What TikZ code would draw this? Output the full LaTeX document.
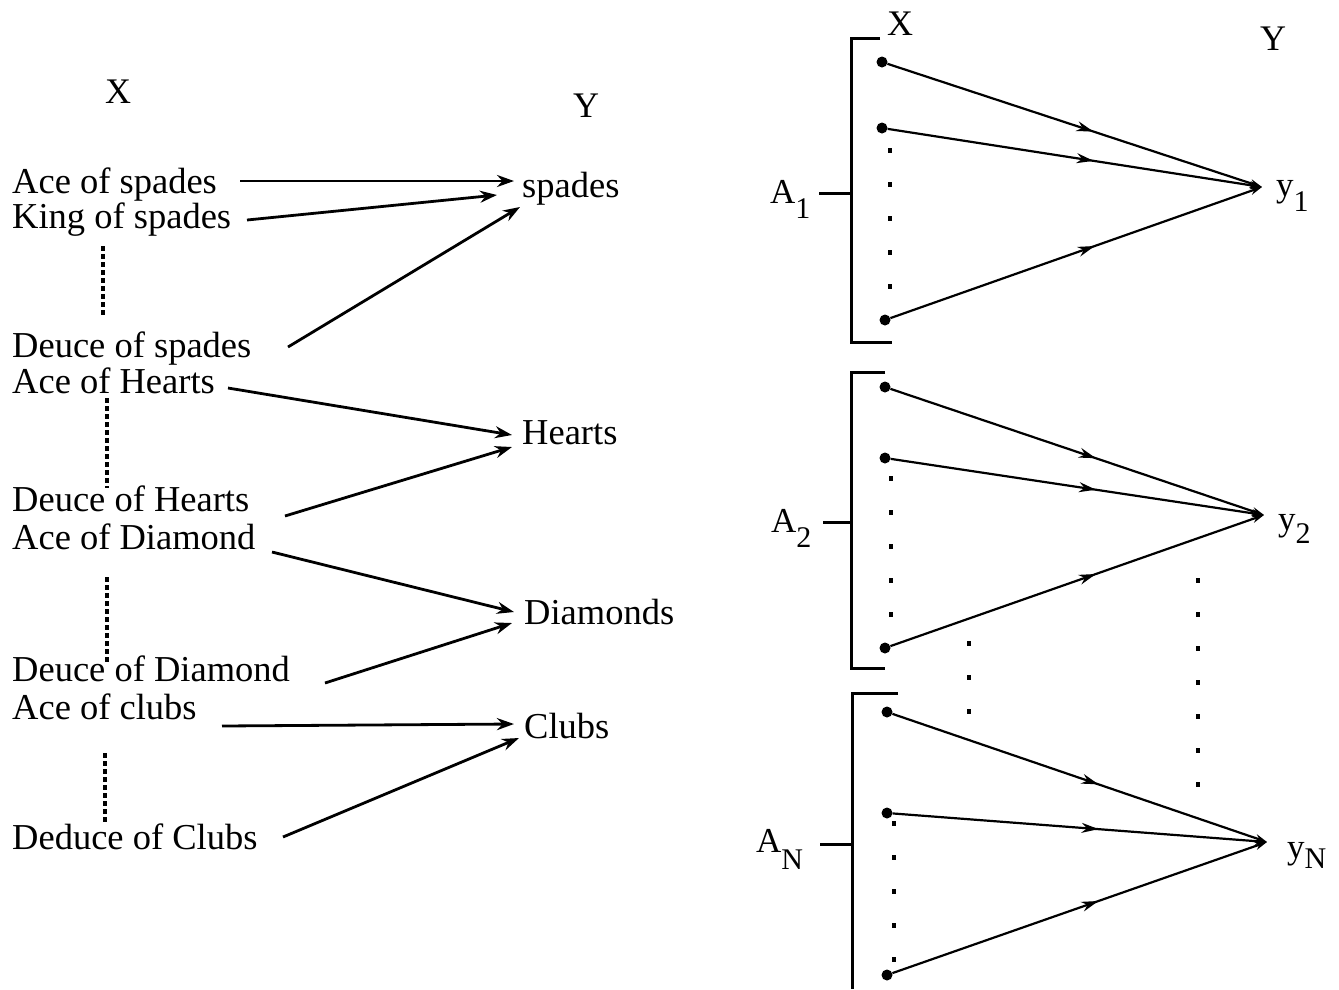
\documentclass[tikz,border=0pt]{standalone}
\usepackage{fontspec}
\setmainfont{Liberation Serif}
\usetikzlibrary{arrows.meta,decorations.markings}
\newcommand\subf{\fontsize{30}{30}\selectfont}
\begin{document}
\begin{tikzpicture}[x=1pt,y=-1pt,
  lbl/.style={inner sep=0pt, anchor=west, font=\fontsize{36.5}{40}\selectfont, text height=24pt, text depth=8pt},
  head/.style={inner sep=0pt, anchor=base, font=\fontsize{36}{40}\selectfont},
  rl/.style={inner sep=0pt, anchor=base west, font=\fontsize{35}{40}\selectfont},
  arr/.style={line width=2.8pt, -{Stealth[length=17pt,width=12pt]}},
  dotline/.style={line width=3.5pt, dash pattern=on 4.5pt off 3.5pt},
  dotpt/.style={circle, fill, inner sep=0pt, minimum size=11pt},
  marr/.style={line width=2.2pt, -{Stealth[length=12pt,width=8pt]}, postaction={decorate},
    decoration={markings, mark=at position 0.55 with {\arrow{Stealth[length=17pt,width=10pt]}}}},
  brk/.style={line width=3pt},
  vdots/.style={line width=4pt, dash pattern=on 5pt off 29pt},
]
\useasboundingbox (0,0) rectangle (1339,989);

% ---------- left panel ----------
\node[head] (lx) at (118,103) {X};
\node[head] (ly) at (586,117) {Y};

\node[lbl] (as) at (12,185) {Ace of spades};
\node[lbl] (ks) at (12,220) {King of spades};
\node[lbl] (ds) at (12,349) {Deuce of spades};
\node[lbl] (ah) at (12,385) {Ace of Hearts};
\node[lbl] (dh) at (12,503) {Deuce of Hearts};
\node[lbl] (ad) at (12,541) {Ace of Diamond};
\node[lbl] (dd) at (12,673) {Deuce of Diamond};
\node[lbl] (ac) at (12,711) {Ace of clubs};
\node[lbl] (dc) at (12,841) {Deduce of Clubs};

\node[lbl] (sp) at (522,189) {spades};
\node[lbl] (ht) at (522,436) {Hearts};
\node[lbl] (dm) at (524,616) {Diamonds};
\node[lbl] (cl) at (524,730) {Clubs};

\draw[arr] ([shift={(228,-4)}]as.west) -- ([shift={(-8,-8)}]sp.west);
\draw[arr] ([shift={(235,0)}]ks.west) -- ([shift={(-25,6)}]sp.west);
\draw[arr] ([shift={(276,-2)}]ds.west) -- ([shift={(-2,18)}]sp.west);
\draw[arr] ([shift={(216,3)}]ah.west) -- ([shift={(-10,-1)}]ht.west);
\draw[arr] ([shift={(273,13)}]dh.west) -- ([shift={(-10,11)}]ht.west);
\draw[arr] ([shift={(260,11)}]ad.west) -- ([shift={(-10,-4)}]dm.west);
\draw[arr] ([shift={(313,10)}]dd.west) -- ([shift={(-12,7)}]dm.west);
\draw[arr] ([shift={(210,15)}]ac.west) -- ([shift={(-10,-6)}]cl.west);
\draw[arr] ([shift={(271,-4)}]dc.west) -- ([shift={(-5,8)}]cl.west);

\draw[dotline] (103,246) -- (103,318);
\draw[dotline] (107,398) -- (107,488);
\draw[dotline] (107,577) -- (107,663);
\draw[dotline] (105,753) -- (105,822);

% ---------- right panel ----------
\node[head] (rx) at (900,35) {X};
\node[head] (ry) at (1273,50) {Y};

% group 1
\draw[brk] (880,38) -- (851,38) -- (851,342) -- (892,342);
\draw[brk] (851,193) -- (819,193);
\node[rl] (a1) at (770,203) {A\raisebox{-15pt}{\subf 1}};
\node[dotpt] (g1a) at (882,62) {};
\node[dotpt] (g1b) at (882,128) {};
\node[dotpt] (g1c) at (885,320) {};
\coordinate (p1) at (1262,187);
\node[rl] (y1) at (1276,196) {y\raisebox{-15pt}{\subf 1}};
\draw[marr] (g1a) -- (p1);
\draw[marr] (g1b) -- (p1);
\draw[marr] (g1c) -- (p1);
\draw[vdots] (890,148) -- (890,290);

% group 2
\draw[brk] (885,372) -- (851,372) -- (851,668) -- (885,668);
\draw[brk] (851,522) -- (823,522);
\node[rl] (a2) at (771,532) {A\raisebox{-15pt}{\subf 2}};
\node[dotpt] (g2a) at (885,387) {};
\node[dotpt] (g2b) at (885,458) {};
\node[dotpt] (g2c) at (885,648) {};
\coordinate (p2) at (1264,515);
\node[rl] (y2) at (1278,530) {y\raisebox{-13pt}{\subf 2}};
\draw[marr] (g2a) -- (p2);
\draw[marr] (g2b) -- (p2);
\draw[marr] (g2c) -- (p2);
\draw[vdots] (891,476) -- (891,620);

% between groups
\draw[vdots] (969,641) -- (969,716);
\draw[vdots] (1198,578) -- (1198,790);

% group N
\draw[brk] (898,693) -- (852,693) -- (852,989);
\draw[brk] (852,844) -- (820,844);
\node[rl] (an) at (756,852) {A\raisebox{-17pt}{\subf N}};
\node[dotpt] (gna) at (887,712) {};
\node[dotpt] (gnb) at (887,813) {};
\node[dotpt] (gnc) at (887,975) {};
\coordinate (pn) at (1267,842);
\node[rl] (yn) at (1287,858) {y\raisebox{-10pt}{\subf N}};
\draw[marr] (gna) -- (pn);
\draw[marr] (gnb) -- (pn);
\draw[marr] (gnc) -- (pn);
\draw[vdots] (894,821) -- (894,965);
\end{tikzpicture}
\end{document}
